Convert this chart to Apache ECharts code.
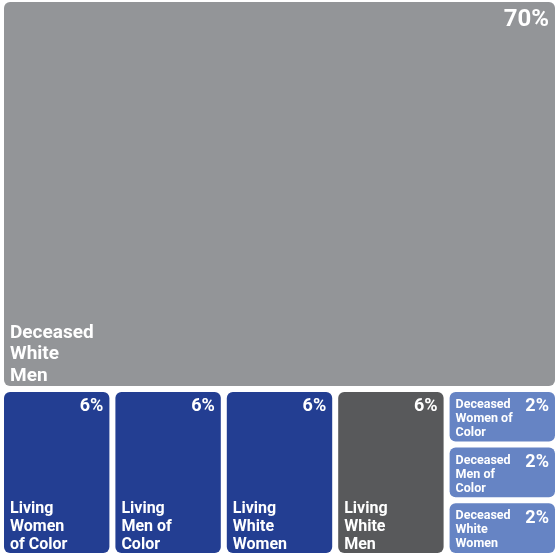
<!DOCTYPE html>
<html>
<head>
<meta charset="utf-8">
<script src="https://cdn.jsdelivr.net/npm/echarts@6/dist/echarts.min.js"></script>
<style>
  html, body { margin: 0; padding: 0; background: #ffffff; }
  #chart { width: 556px; height: 554px; }
</style>
</head>
<body>
<div id="chart"></div>
<script>
// Groups, with the line breaks used in their box labels
const groupNames = [
  'Deceased\nWhite\nMen',
  'Living\nWomen\nof Color',
  'Living\nMen of\nColor',
  'Living\nWhite\nWomen',
  'Living\nWhite\nMen',
  'Deceased\nWomen of\nColor',
  'Deceased\nMen of\nColor',
  'Deceased\nWhite\nWomen'
];
// Share of each group, in percent
const groupShares = [70, 6, 6, 6, 6, 2, 2, 2];

// Box fills
const DARK_BLUE = '#233e92';
const LIGHT_BLUE = '#6684c4';
const groupFills = ['#939598', DARK_BLUE, DARK_BLUE, DARK_BLUE, '#58595b', LIGHT_BLUE, LIGHT_BLUE, LIGHT_BLUE];

function sizeOf(i) {
  if (i === 0) return 'large';
  return groupShares[i] >= 6 ? 'medium' : 'small';
}

const FONT = 'Roboto, "Noto Sans", sans-serif';
const BORDER = 3;      // white rim that separates neighbouring boxes
const CLEAR = 'rgba(0,0,0,0)';

// Label styles per box size
const nameStyles = {
  large:  { position: 'insideBottomLeft', fontSize: 19, lineHeight: 21.5, distance: 1, offset: [0, 7] },
  medium: { position: 'insideBottomLeft', fontSize: 16, lineHeight: 18, distance: 1, offset: [0, 7] },
  small:  { position: 'insideTopLeft', fontSize: 12.5, lineHeight: 14, distance: BORDER + 1 }
};
const pctStyles = {
  large:  { fontSize: 24 },
  medium: { fontSize: 18 },
  small:  { fontSize: 18 }
};
const baseLabel = { show: true, color: '#ffffff', fontFamily: FONT, fontWeight: 'bold', textBorderWidth: 0 };

// Builds the nested tree: the large box on top, the bottom row below it,
// and the three small boxes stacked in the last column of that row.
function buildTree(leafFn, groupStyle) {
  const leaves = groupNames.map((n, i) => leafFn(i));
  const stack = { name: 'stack', itemStyle: groupStyle, children: leaves.slice(5, 8) };
  const row = { name: 'row', itemStyle: groupStyle, children: leaves.slice(1, 5).concat([stack]) };
  return [leaves[0], row];
}

// Filled boxes, carrying the names of the larger boxes
const boxTree = buildTree(i => ({
  name: groupNames[i],
  value: groupShares[i],
  itemStyle: { color: groupFills[i], borderWidth: BORDER, borderColor: '#ffffff', borderRadius: 6 },
  label: sizeOf(i) === 'small'
    ? { show: false }
    : Object.assign({}, baseLabel, { formatter: '{b}' }, nameStyles[sizeOf(i)])
}), { color: '#ffffff', borderWidth: 0, gapWidth: 0 });

// Transparent overlay with the percentages
const pctTree = buildTree(i => ({
  name: groupNames[i],
  value: groupShares[i],
  itemStyle: { color: CLEAR, borderWidth: BORDER, borderColor: CLEAR, borderRadius: 6 },
  label: Object.assign({}, baseLabel, {
    position: 'insideTopRight', distance: 1,
    formatter: p => p.value + '%'
  }, pctStyles[sizeOf(i)])
}), { color: CLEAR, borderColor: CLEAR, borderWidth: 0, gapWidth: 0 });

// Transparent overlay with the names of the small stacked boxes
const smallNameTree = buildTree(i => ({
  name: groupNames[i],
  value: groupShares[i],
  itemStyle: { color: CLEAR, borderWidth: 0, borderColor: CLEAR },
  label: sizeOf(i) === 'small'
    ? Object.assign({}, baseLabel, { formatter: '{b}' }, nameStyles.small)
    : { show: false }
}), { color: CLEAR, borderColor: CLEAR, borderWidth: 0, gapWidth: 0 });

const common = {
  type: 'treemap',
  left: 1, top: -1, width: 557, height: 557,
  roam: false,
  nodeClick: false,
  sort: false,
  squareRatio: 0.25,
  breadcrumb: { show: false },
  itemStyle: { gapWidth: 0, borderWidth: 0 },
  emphasis: { disabled: true },
  animation: false
};

const chart = echarts.init(document.getElementById('chart'), null, { renderer: 'canvas' });
chart.setOption({
  animation: false,
  series: [
    Object.assign({}, common, { data: boxTree }),
    Object.assign({}, common, { data: pctTree, silent: true }),
    Object.assign({}, common, { data: smallNameTree, silent: true })
  ]
});
</script>
</body>
</html>
